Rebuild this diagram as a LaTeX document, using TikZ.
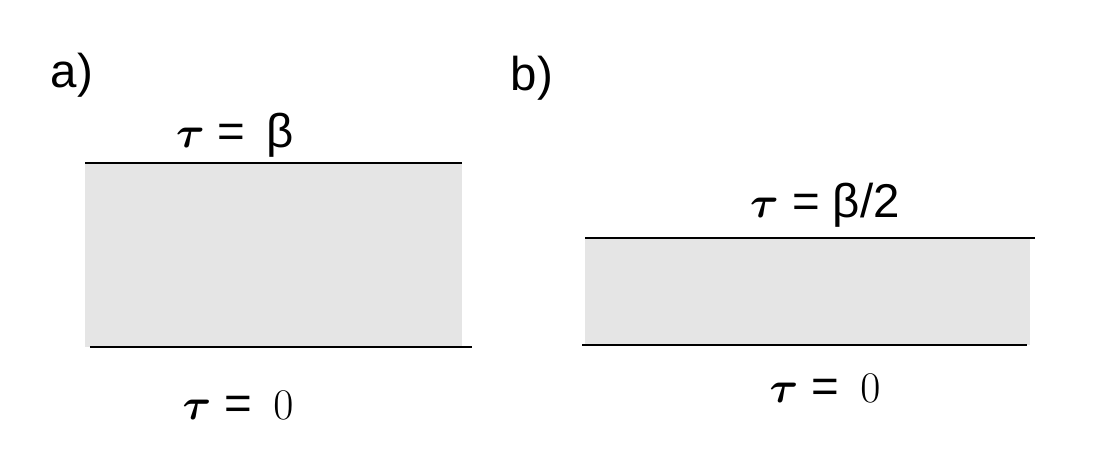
\documentclass[tikz,border=0pt]{standalone}
\usepackage{amsmath}
\usepackage{fontspec}
\setmainfont{Liberation Sans}
\usetikzlibrary{positioning}
\tikzset{
  slab/.style={fill=black!10, draw=none}, % shaded strip
  edge line/.style={line width=1.2pt}, % boundary lines
  lbl/.style={font=\fontsize{27}{30}\selectfont, inner sep=0pt},
}

\begin{document}
\begin{tikzpicture}[x=0.02cm, y=-0.02cm]
  \useasboundingbox (0,0) rectangle (1118,465);
  % panel a
  \node[lbl] (a) at (72,75) {a)};
  \fill[slab] (85,163) rectangle (462,347);
  \coordinate (a1) at (85,163); \coordinate (a2) at (462,163);
  \coordinate (a3) at (90,347); \coordinate (a4) at (472,347);
  \draw[edge line] (a1) -- (a2);
  \draw[edge line] (a3) -- (a4);
  \node[lbl] (atop) at (235,135) {$\boldsymbol{\tau}$ = \,β};
  \node[lbl] (abot) at (238,405) {$\boldsymbol{\tau}$ = \,$0$};
  % panel b
  \node[lbl] (b) at (532,78) {b)};
  \fill[slab] (585,238) rectangle (1030,345);
  \coordinate (b1) at (585,238); \coordinate (b2) at (1035,238);
  \coordinate (b3) at (582,345); \coordinate (b4) at (1027,345);
  \draw[edge line] (b1) -- (b2);
  \draw[edge line] (b3) -- (b4);
  \node[lbl] (btop) at (825,205) {$\boldsymbol{\tau}$ = β/2};
  \node[lbl] (bbot) at (825,388) {$\boldsymbol{\tau}$ = \,$0$};
\end{tikzpicture}
\end{document}
